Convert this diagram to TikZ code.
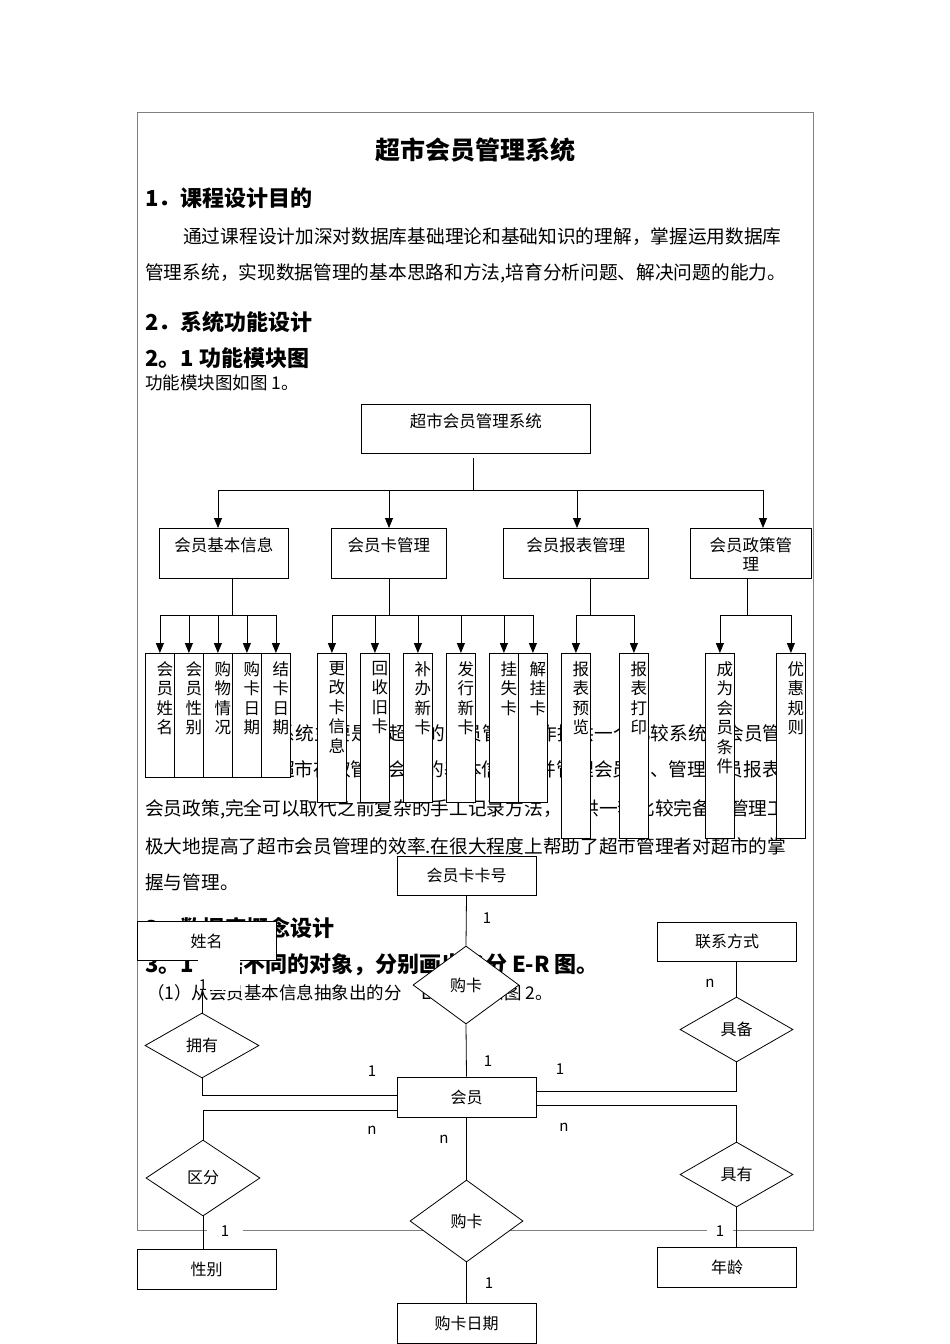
\documentclass[tikz,border=0pt]{standalone}
\usepackage{fontspec}
\setmainfont{Noto Sans CJK SC}
\usetikzlibrary{arrows.meta,shapes.geometric}
\XeTeXlinebreaklocale "zh"
\XeTeXlinebreakskip=0pt plus 3pt minus 1pt
\newcommand{\jline}[2]{\makebox[#1pt][s]{#2}}
\begin{document}
\begin{tikzpicture}[x=1pt,y=-1pt,
  txt/.style={inner sep=0pt, anchor=west},
  body/.style={txt, font=\fontsize{18.7}{22}\selectfont},
  head/.style={txt, font=\fontsize{22}{26}\selectfont\bfseries},
  fbox/.style={draw, fill=white, line width=0.8pt, inner sep=0pt},
  ftext/.style={inner sep=0pt, font=\fontsize{16.5}{19.5}\selectfont, align=center, anchor=north},
  conn/.style={line width=0.8pt},
  arr/.style={conn, -{Triangle[width=8pt,length=10pt]}},
  ebox/.style={draw, fill=white, line width=0.8pt, minimum width=139pt, minimum height=39pt, inner sep=0pt, font=\fontsize{16}{19}\selectfont},
  rel/.style={diamond, draw, fill=white, line width=0.8pt, inner sep=0pt, font=\fontsize{16}{19}\selectfont},
  card/.style={fill=white, inner sep=0pt, minimum width=28pt, minimum height=22pt, font=\fontsize{15}{18}\selectfont},
]
\newcommand{\leafbox}[4]{%
  \node[fbox, minimum width=29pt, minimum height=#3pt, anchor=north west] (#1) at (#2,653) {};
  \node[ftext] (#1t) at ([xshift=5pt,yshift=-8pt]#1.north) {#4};}
\fill[white] (0,0) rectangle (950,1344);
\useasboundingbox (0,0) rectangle (950,1344);
% page frame
\draw[gray, line width=0.8pt] (137,112) rectangle (813,1230);

% ---- text ----
\node[txt, anchor=center, font=\fontsize{25}{30}\selectfont\bfseries] (title) at (475,150) {超市会员管理系统};
\node[head] (h1) at (145,198) {1．课程设计目的};
\node[body] (p1a) at (183,237) {\jline{612}{通过课程设计加深对数据库基础理论和基础知识的理解，掌握运用数据库}};
\node[body] (p1b) at (145,273) {管理系统，实现数据管理的基本思路和方法,培育分析问题、解决问题的能力。};
\node[head] (h2) at (145,322) {2．系统功能设计};
\node[head] (h21) at (145,358) {2。1 功能模块图};
\node[txt, font=\fontsize{17.5}{21}\selectfont] (cap1) at (145,383) {功能模块图如图 1。};

\node[body] (p2a) at (183,733) {\jline{612}{本超市会员系统主要是为超市的会员管理工作提供一个比较系统的会员管理}};
\node[body] (p2b) at (145,770) {\jline{650}{平台，它可以为超市存取管理会员的基本信息，并管理会员卡、管理会员报表和}};
\node[body] (p2c) at (145,809) {\jline{650}{会员政策,完全可以取代之前复杂的手工记录方法，提供一套比较完备的管理工具}};
\node[body] (p2d) at (145,846) {\jline{655}{极大地提高了超市会员管理的效率.在很大程度上帮助了超市管理者对超市的掌}};
\node[body] (p2e) at (145,882) {握与管理。};

\node[head] (h3) at (145,928) {3．数据库概念设计};
\node[head] (h31) at (145,965) {3。1 根据不同的对象，分别画出各分 E-R 图。};
\node[txt, font=\fontsize{17.5}{21}\selectfont] (cap2) at (147,993) {（1）从会员基本信息抽象出的分\hspace{16pt} E-R\hspace{16pt} 图如图 2。};

% ---- function module diagram ----
\node[fbox, minimum width=229pt, minimum height=49pt, anchor=north west] (sys) at (361,404) {};
\node[ftext] (syst) at ([yshift=-9pt]sys.north) {超市会员管理系统};
\node[fbox, minimum width=129pt, minimum height=50pt, anchor=north west] (m1) at (159,528) {};
\node[ftext] (m1t) at ([yshift=-9pt]m1.north) {会员基本信息};
\node[fbox, minimum width=115pt, minimum height=50pt, anchor=north west] (m2) at (331,528) {};
\node[ftext] (m2t) at ([yshift=-9pt]m2.north) {会员卡管理};
\node[fbox, minimum width=145pt, minimum height=50pt, anchor=north west] (m3) at (503,528) {};
\node[ftext] (m3t) at ([yshift=-9pt]m3.north) {会员报表管理};
\node[fbox, minimum width=121pt, minimum height=50pt, anchor=north west] (m4) at (690,528) {};
\node[ftext] (m4t) at ([yshift=-9pt]m4.north) {会员政策管\\理};

\coordinate (s0) at (473,458);
\coordinate (j0) at (473,490);
\coordinate (j1) at (218,490);
\coordinate (j2) at (389,490);
\coordinate (j3) at (577,490);
\coordinate (j4) at (763,490);
\draw[conn] (s0) -- (j0);
\draw[conn] (j1) -- (j4);
\draw[arr] (j1) -- (j1 |- m1.north);
\draw[arr] (j2) -- (j2 |- m2.north);
\draw[arr] (j3) -- (j3 |- m3.north);
\draw[arr] (j4) -- (j4 |- m4.north);

% leaves
\leafbox{a1}{145}{124}{会\\员\\姓\\名}
\leafbox{a2}{174}{124}{会\\员\\性\\别}
\leafbox{a3}{203}{124}{购\\物\\情\\况}
\leafbox{a4}{232}{124}{购\\卡\\日\\期}
\leafbox{a5}{261}{124}{结\\卡\\日\\期}
\leafbox{c1}{317}{149}{更\\改\\卡\\信\\息}
\leafbox{c2}{360}{149}{回\\收\\旧\\卡}
\leafbox{c3}{403}{149}{补\\办\\新\\卡}
\leafbox{c4}{446}{149}{发\\行\\新\\卡}
\leafbox{c5}{489}{149}{挂\\失\\卡}
\leafbox{c6}{518}{149}{解\\挂\\卡}
\leafbox{r1}{561}{185}{报\\表\\预\\览}
\leafbox{r2}{619}{185}{报\\表\\打\\印}
\leafbox{q1}{705}{185}{成\\为\\会\\员\\条\\件}
\leafbox{q2}{776}{185}{优\\惠\\规\\则}

\coordinate (g) at (0,615);
\coordinate (k1) at (232,615);
\coordinate (k2) at (389,615);
\coordinate (k3) at (590,615);
\coordinate (k4) at (747,615);
\draw[conn] (k1 |- m1.south) -- (k1);
\draw[conn] (k2 |- m2.south) -- (k2);
\draw[conn] (k3 |- m3.south) -- (k3);
\draw[conn] (k4 |- m4.south) -- (k4);
\draw[conn] (a1.north |- g) -- (a5.north |- g);
\draw[conn] (c1.north |- g) -- (c6.north |- g);
\draw[conn] (r1.north |- g) -- (r2.north |- g);
\draw[conn] (q1.north |- g) -- (q2.north |- g);
\foreach \n in {a1,a2,a3,a4,a5,c1,c2,c3,c4,c5,c6,r1,r2,q1,q2}
  \draw[arr] (\n.north |- g) -- (\n.north);

% ---- E-R diagram ----
\node[ebox] (card) at (466.5,875.5) {会员卡卡号};
\node[rel, minimum width=106pt, minimum height=78pt] (buy1) at (466,985) {购卡};
\node[ebox, minimum height=40pt] (mem) at (466.5,1097) {会员};
\node[ebox] (name) at (206.5,941) {姓名};
\node[rel, minimum width=114pt, minimum height=65pt] (own) at (202,1045.5) {拥有};
\node[rel, minimum width=114pt, minimum height=76pt] (sexrel) at (203,1178) {区分};
\node[ebox, minimum height=40pt] (sex) at (206.5,1269) {性别};
\node[rel, minimum width=113pt, minimum height=82pt] (buy2) at (466.5,1221) {购卡};
\node[ebox, minimum height=40pt] (date) at (466.5,1323) {购卡日期};
\node[ebox] (contact) at (727,941.5) {联系方式};
\node[rel, minimum width=113pt, minimum height=65pt] (have) at (736.5,1029.5) {具备};
\node[rel, minimum width=113pt, minimum height=65pt] (has) at (736.5,1174.5) {具有};
\node[ebox, minimum height=40pt] (age) at (727,1267) {年龄};

\draw[conn] (card.south) -- (buy1.north);
\draw[conn] (buy1.south) -- (mem.north);
\draw[conn] (own.north |- name.south) -- (own.north);
\draw[conn] (own.south) |- ([yshift=2pt]mem.west);
\draw[conn] ([yshift=-13pt]mem.west) -| (sexrel.north);
\draw[conn] (sexrel.south) -- (sexrel.south |- sex.north);
\draw[conn] (mem.south) -- (buy2.north);
\draw[conn] (buy2.south) -- (date.north);
\draw[conn] (have.north |- contact.south) -- (have.north);
\draw[conn] (have.south) |- ([yshift=6pt]mem.east);
\draw[conn] ([yshift=-8pt]mem.east) -| (has.north);
\draw[conn] (has.south) -- (has.south |- age.north);

% cardinalities
\fill[white] (198,957) rectangle (240,990);
\node[card, fill=none] (l2) at (203,985) {1};
\node[card] (l1) at (487,918) {1};
\node[card] (l3) at (488,1061) {1};
\node[card] (l4) at (372,1071) {1};
\node[card] (l5) at (560,1069) {1};
\node[card] (l6) at (372,1130) {n};
\node[card] (l7) at (444,1139) {n};
\node[card] (l8) at (564,1127) {n};
\node[card] (l9) at (710,983) {n};
\node[card, minimum width=36pt] (l10) at (225,1231) {1};
\node[card, minimum width=26pt] (l11) at (720,1231) {1};
\node[card] (l12) at (489,1283) {1};
\end{tikzpicture}
\end{document}
